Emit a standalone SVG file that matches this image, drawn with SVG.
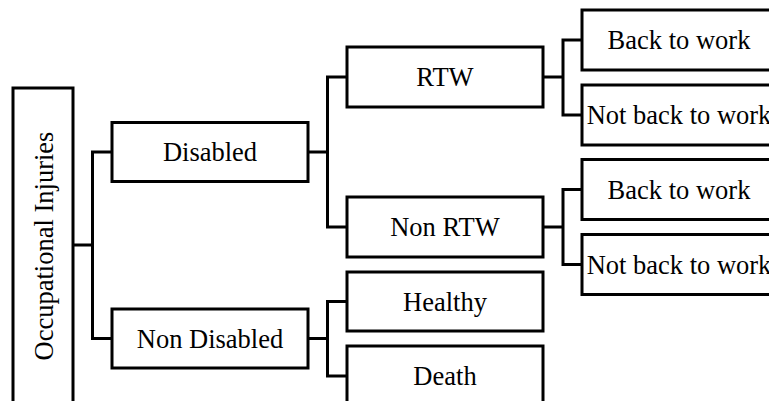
<svg xmlns="http://www.w3.org/2000/svg" width="769" height="401" viewBox="0 0 769 401">
  <style>
    .box { fill: #ffffff; stroke: #000000; stroke-width: 3; }
    .lbl { font-family: "Liberation Serif", "Times New Roman", serif; font-size: 26.5px; fill: #000000; text-anchor: middle; }
    .wire { fill: none; stroke: #000000; stroke-width: 3; stroke-linejoin: miter; stroke-linecap: square; }
  </style>
  <rect x="0" y="0" width="769" height="401" fill="#ffffff"/>

  <!-- tree connectors -->
  <g id="connectors">
    <path class="wire" d="M73 245 H92.5 M112 152 H92.5 V338.5 H112"/>
    <path class="wire" d="M308 152 H327.5 M347 77 H327.5 V227 H347"/>
    <path class="wire" d="M308 338.5 H327.5 M347 301.5 H327.5 V376 H347"/>
    <path class="wire" d="M543 77 H563 M582 40 H563 V115 H582"/>
    <path class="wire" d="M543 227 H563 M582 189.5 H563 V264.5 H582"/>
  </g>

  <!-- root -->
  <g id="occupational-injuries">
    <rect class="box" x="13" y="88" width="60" height="330"/>
    <text class="lbl" transform="translate(52.5 246) rotate(-90)" x="0" y="0">Occupational Injuries</text>
  </g>

  <!-- level 1 -->
  <g id="disabled">
    <rect class="box" x="112" y="122.5" width="196" height="59"/>
    <text class="lbl" x="210" y="161">Disabled</text>
  </g>
  <g id="non-disabled">
    <rect class="box" x="112" y="309" width="196" height="59"/>
    <text class="lbl" x="210" y="347.5">Non Disabled</text>
  </g>

  <!-- level 2 -->
  <g id="rtw">
    <rect class="box" x="347" y="47" width="196" height="60"/>
    <text class="lbl" x="445" y="86">RTW</text>
  </g>
  <g id="non-rtw">
    <rect class="box" x="347" y="197" width="196" height="60"/>
    <text class="lbl" x="445" y="236">Non RTW</text>
  </g>
  <g id="healthy">
    <rect class="box" x="347" y="272" width="196" height="59"/>
    <text class="lbl" x="445" y="310.5">Healthy</text>
  </g>
  <g id="death">
    <rect class="box" x="347" y="346" width="196" height="60"/>
    <text class="lbl" x="445" y="385">Death</text>
  </g>

  <!-- level 3 -->
  <g id="rtw-back">
    <rect class="box" x="582" y="10" width="196" height="60"/>
    <text class="lbl" x="679" y="49">Back to work</text>
  </g>
  <g id="rtw-not-back">
    <rect class="box" x="582" y="85" width="196" height="60"/>
    <text class="lbl" x="679" y="124">Not back to work</text>
  </g>
  <g id="non-rtw-back">
    <rect class="box" x="582" y="159.5" width="196" height="60"/>
    <text class="lbl" x="679" y="198.5">Back to work</text>
  </g>
  <g id="non-rtw-not-back">
    <rect class="box" x="582" y="234.5" width="196" height="60"/>
    <text class="lbl" x="679" y="273.5">Not back to work</text>
  </g>
</svg>
